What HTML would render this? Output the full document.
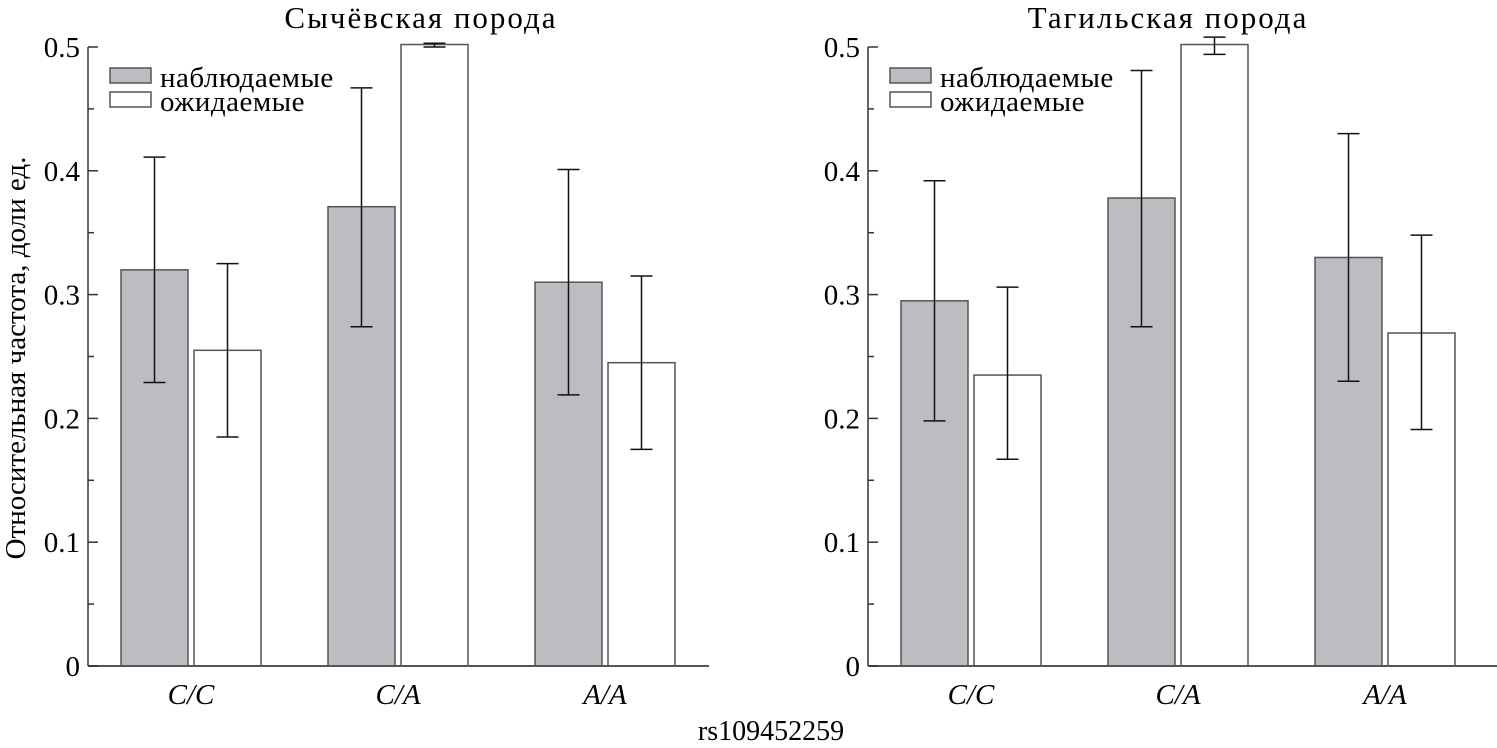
<!DOCTYPE html>
<html><head><meta charset="utf-8"><style>
html,body{margin:0;padding:0;background:#fff;}
svg{display:block;font-family:"Liberation Serif",serif;}
</style></head><body>
<svg id="chart" width="1497" height="748" viewBox="0 0 1497 748">
<text x="25" y="358" font-size="29" text-anchor="middle" transform="rotate(-90 25 358)">Относительная частота, доли ед.</text>
<text x="771" y="740" font-size="28" text-anchor="middle">rs109452259</text>
</svg>
<script>
const categories = ["C/C", "C/A", "A/A"];
const titles = ["Сычёвская порода", "Тагильская порода"];
const obsLeft = [0.32, 0.371, 0.31];
const obsLeftLo = [0.229, 0.274, 0.219];
const obsLeftHi = [0.411, 0.467, 0.401];
const expLeft = [0.255, 0.502, 0.245];
const expLeftLo = [0.185, 0.500, 0.175];
const expLeftHi = [0.325, 0.503, 0.315];
const obsRight = [0.295, 0.378, 0.33];
const obsRightLo = [0.198, 0.274, 0.23];
const obsRightHi = [0.392, 0.481, 0.43];
const expRight = [0.235, 0.502, 0.269];
const expRightLo = [0.167, 0.494, 0.191];
const expRightHi = [0.306, 0.508, 0.348];
const yTicks = [0, 0.1, 0.2, 0.3, 0.4, 0.5];
const yTickLabels = ["0", "0.1", "0.2", "0.3", "0.4", "0.5"];
const legendLabels = ["наблюдаемые", "ожидаемые"];

const svg = document.getElementById('chart');
const NS = 'http://www.w3.org/2000/svg';
function mk(tag, attrs, parent) {
  const e = document.createElementNS(NS, tag);
  for (const k in attrs) e.setAttribute(k, attrs[k]);
  (parent || svg).appendChild(e);
  return e;
}
const Y0 = 666, Y1 = 47;
function yScale(v) { return Y0 - v / 0.5 * (Y0 - Y1); }

const panels = [
  {ax: 88, xEnd: 709, tx: 421, obs: obsLeft, oLo: obsLeftLo, oHi: obsLeftHi, exp: expLeft, eLo: expLeftLo, eHi: expLeftHi, name: 'sychevskaya'},
  {ax: 868, xEnd: 1497, tx: 1168, obs: obsRight, oLo: obsRightLo, oHi: obsRightHi, exp: expRight, eLo: expRightLo, eHi: expRightHi, name: 'tagilskaya'}
];
const groupStep = 207, barW = 67, firstOffset = 33, pairGap = 6;
function xBand(ax, i) { return ax + firstOffset + i * groupStep; }

panels.forEach((p, pi) => {
  const g = mk('g', {});
  
  
  const t = mk('text', {x: p.tx, y: 28, 'font-size': 31, 'letter-spacing': 2, 'text-anchor': 'middle'}, g);
  t.textContent = titles[pi];
  
  
  categories.forEach((c, i) => {
    const x0 = xBand(p.ax, i);
    const series = [
      {v: p.obs[i], lo: p.oLo[i], hi: p.oHi[i], x: x0, fill: '#bcbdc1', nm: 'observed'},
      {v: p.exp[i], lo: p.eLo[i], hi: p.eHi[i], x: x0 + barW + pairGap, fill: '#fff', nm: 'expected'}
    ];
    series.forEach(s => {
      const r = mk('rect', {x: s.x, y: yScale(s.v), width: barW, height: Y0 - yScale(s.v), fill: s.fill, stroke: '#555', 'stroke-width': 1.5}, g);
      
      
      const cx = s.x + barW / 2;
      const eb = mk('g', {stroke: '#111', 'stroke-width': 1.5}, g);
      
      
      mk('line', {x1: cx, x2: cx, y1: yScale(s.lo), y2: yScale(s.hi)}, eb);
      mk('line', {x1: cx - 11, x2: cx + 11, y1: yScale(s.lo), y2: yScale(s.lo)}, eb);
      mk('line', {x1: cx - 11, x2: cx + 11, y1: yScale(s.hi), y2: yScale(s.hi)}, eb);
    });
    const lbl = mk('text', {x: x0 + barW + pairGap / 2, y: 704, 'font-size': 29, 'font-style': 'italic', 'text-anchor': 'middle'}, g);
    lbl.textContent = c;
    
    
  });
  const ya = mk('line', {x1: p.ax, x2: p.ax, y1: Y1, y2: Y0, stroke: '#333', 'stroke-width': 1.5}, g);
  
  
  const xa = mk('line', {x1: p.ax, x2: p.xEnd, y1: Y0, y2: Y0, stroke: '#555', 'stroke-width': 2}, g);
  
  
  yTicks.forEach((v, k) => {
    mk('line', {x1: p.ax, x2: p.ax + 10, y1: yScale(v), y2: yScale(v), stroke: '#333', 'stroke-width': 1.5}, g);
    if (k < yTicks.length - 1) {
      const m = (v + yTicks[k + 1]) / 2;
      mk('line', {x1: p.ax, x2: p.ax + 6, y1: yScale(m), y2: yScale(m), stroke: '#333', 'stroke-width': 1.5}, g);
    }
    const tl = mk('text', {x: p.ax - 8, y: yScale(v) + 10, 'font-size': 29, 'text-anchor': 'end'}, g);
    tl.textContent = yTickLabels[k];
    
    
  });
  const lg = mk('g', {}, g);
  
  
  legendLabels.forEach((l, k) => {
    const ly = 68 + k * 24;
    mk('rect', {x: p.ax + 22, y: ly, width: 41, height: 15, fill: k ? '#fff' : '#bcbdc1', stroke: '#555', 'stroke-width': 1.5}, lg);
    const lt = mk('text', {x: p.ax + 72, y: ly + 19, 'font-size': 29, 'letter-spacing': 0.5}, lg);
    lt.textContent = l;
    
    
  });
});
</script>
</body></html>
